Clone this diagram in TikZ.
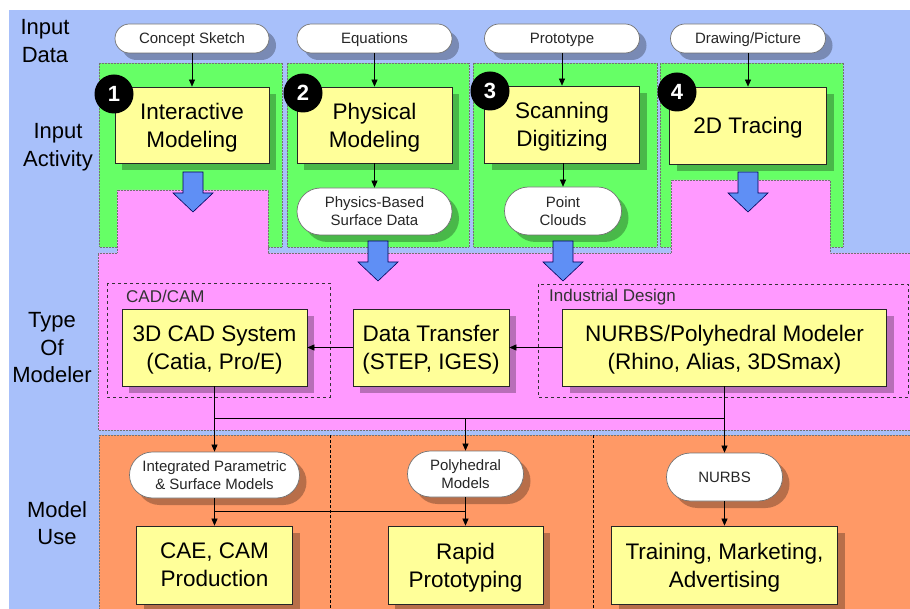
\documentclass[tikz,border=0pt]{standalone}
\usepackage{fontspec}
\setmainfont{Liberation Sans}
\usetikzlibrary{shapes.misc,arrows.meta,shadows}
\definecolor{bgblue}{HTML}{A8C0FA}
\definecolor{pgreen}{HTML}{66FF66}
\definecolor{ppink}{HTML}{FF99FF}
\definecolor{porange}{HTML}{FF9966}
\definecolor{pyellow}{HTML}{FFFF99}
\definecolor{barrow}{HTML}{5F8FF5}
\begin{document}
\begin{tikzpicture}[x=1pt,y=-1pt,
  shd/.style={general shadow={fill=black, opacity=0.28, shadow xshift=7pt, shadow yshift=-7pt}},
  ybox/.style={shd, draw=black!85, line width=0.8pt, fill=pyellow, align=center, inner sep=0pt, text depth=-3pt, font=\fontsize{22.5}{28}\selectfont},
  pill/.style={shd, rounded rectangle, draw=black!55, line width=0.7pt, fill=white, align=center, inner sep=0pt, text depth=0pt, text=black!85, font=\fontsize{15}{18}\selectfont},
  num/.style={circle, fill=black, text=white, font=\bfseries\fontsize{22}{22}\selectfont, minimum size=39pt, inner sep=0pt},
  rowlab/.style={align=center, font=\fontsize{22}{27.5}\selectfont},
  grp/.style={draw=black!80, dashed, line width=0.6pt},
  grplab/.style={anchor=west, inner sep=0pt, text=black!80, font=\fontsize{17}{20}\selectfont},
  zone/.style={draw=black!55, densely dotted, line width=0.5pt},
  con/.style={-{Triangle[length=7pt,width=6pt]}, line width=0.6pt},
  bigarrow/.style={fill=barrow, draw=blue!35!black, line width=0.6pt},
  blockarrow/.pic={\draw[bigarrow] (-10,0) -- (10,0) -- (10,21) -- (20,21) -- (0,40) -- (-20,21) -- (-10,21) -- cycle;}
]
\useasboundingbox (0,0) rectangle (910,609);
% background
\fill[bgblue] (9,10) rectangle (910,609);
% green panels
\draw[zone, fill=pgreen] (99,63) rectangle (282,247);
\draw[zone, fill=pgreen] (287,63) rectangle (469,247);
\draw[zone, fill=pgreen] (473,63) rectangle (657,247);
\draw[zone, fill=pgreen] (660,63) rectangle (843,247);
% pink zone
\draw[zone, fill=ppink] (98,253) -- (117,253) -- (117,190) -- (268,190) -- (268,253) -- (671,253) -- (671,180) -- (830,180) -- (830,253) -- (910,253) -- (910,430) -- (98,430) -- cycle;
% orange zone
\draw[zone, fill=porange] (99,435) rectangle (910,609);
\draw[black, dash pattern=on 3pt off 2pt, line width=0.6pt] (330,435) -- (330,609);
\draw[black, dash pattern=on 3pt off 2pt, line width=0.6pt] (593,435) -- (593,609);

% row labels
\node[rowlab] (rl1) at (45,41) {Input\\Data};
\node[rowlab] (rl2) at (58,147) {Input\\Activity};
\node[rowlab] (rl3) at (52,348) {Type\\Of\\Modeler};
\node[rowlab] (rl4) at (57,523) {Model\\Use};

% input data pills
\node[pill, minimum width=154pt, minimum height=29pt] (cs) at (192,38.5) {Concept Sketch};
\node[pill, minimum width=155pt, minimum height=29pt] (eq) at (374.5,38.5) {Equations};
\node[pill, minimum width=155pt, minimum height=29pt] (pt) at (562,38.5) {Prototype};
\node[pill, minimum width=155pt, minimum height=29pt] (dp) at (748,38.5) {Drawing/Picture};

% input activity boxes
\node[ybox, minimum width=154pt, minimum height=76pt] (im) at (192,125) {Interactive\\Modeling};
\node[ybox, minimum width=155pt, minimum height=76pt] (pm) at (374.5,125) {Physical\\Modeling};
\node[ybox, minimum width=155pt, minimum height=77pt] (sd) at (562,124.5) {Scanning\\Digitizing};
\node[ybox, minimum width=157pt, minimum height=77pt] (tr) at (748,125.5) {2D Tracing};

\node[num] (n1) at (114,94) {1};
\node[num] (n2) at (303,93) {2};
\node[num] (n3) at (490,91) {3};
\node[num] (n4) at (677,92) {4};

% intermediate pills
\node[pill, minimum width=155pt, minimum height=47pt] (psd) at (374.5,211.5) {Physics-Based\\Surface Data};
\node[pill, minimum width=117pt, minimum height=48pt] (pc) at (563,211) {Point\\Clouds};

\draw[con] (cs.south) -- (im.north);
\draw[con] (eq.south) -- (pm.north);
\draw[con] (pt.south) -- (sd.north);
\draw[con] (dp.south) -- (tr.north);
\draw[con] (pm.south) -- (psd.north);
\draw[con] (sd.south -| pc.north) -- (pc.north);

% block arrows
\pic at (193,172) {blockarrow};
\pic at (748,172) {blockarrow};
\pic at (378,241) {blockarrow};
\pic at (563,241) {blockarrow};

% type of modeler
\draw[grp] (107,283) rectangle (330,397);
\node[grplab] (gl1) at (126,296) {CAD/CAM};
\draw[grp] (538,284) rectangle (908,397);
\node[grplab] (gl2) at (549,297) {Industrial Design};

\node[ybox, minimum width=185pt, minimum height=77pt] (cad) at (214.5,347.5) {3D CAD System\\(Catia, Pro/E)};
\node[ybox, minimum width=156pt, minimum height=77pt] (dt) at (431,347.5) {Data Transfer\\(STEP, IGES)};
\node[ybox, minimum width=324pt, minimum height=77pt] (nm) at (724.5,347.5) {NURBS/Polyhedral Modeler\\(Rhino, Alias, 3DSmax)};

\draw[con] (nm.west) -- (dt.east);
\draw[con] (dt.west) -- (cad.east);

% model use
\node[pill, minimum width=170pt, minimum height=46pt] (ipsm) at (214.5,475) {Integrated Parametric\\\& Surface Models};
\node[pill, minimum width=116pt, minimum height=46pt] (poly) at (465.5,474) {Polyhedral\\Models};
\node[pill, minimum width=116pt, minimum height=48pt] (nurbs) at (724.5,477) {NURBS};

\node[ybox, minimum width=156pt, minimum height=78pt] (cae) at (214.5,565) {CAE, CAM\\Production};
\node[ybox, minimum width=155pt, minimum height=78pt] (rp) at (465.5,565) {Rapid\\Prototyping};
\node[ybox, minimum width=226pt, minimum height=78pt] (tma) at (724.5,565) {Training, Marketing,\\Advertising};

\coordinate (j1) at (214.5,418);
\coordinate (j2) at (465.5,418);
\coordinate (j3) at (724.5,418);
\draw[line width=0.6pt] (j1) -- (j3);
\draw[con] (cad.south) -- (ipsm.north);
\draw[con] (nm.south) -- (nurbs.north);
\draw[con] (j2) -- (poly.north);

\coordinate (k1) at (214.5,511);
\coordinate (k2) at (465.5,511);
\draw[line width=0.6pt] (k1) -- (k2);
\draw[con] (ipsm.south) -- (cae.north);
\draw[con] (poly.south) -- (rp.north);
\draw[con] (nurbs.south) -- (tma.north);
\end{tikzpicture}
\end{document}
